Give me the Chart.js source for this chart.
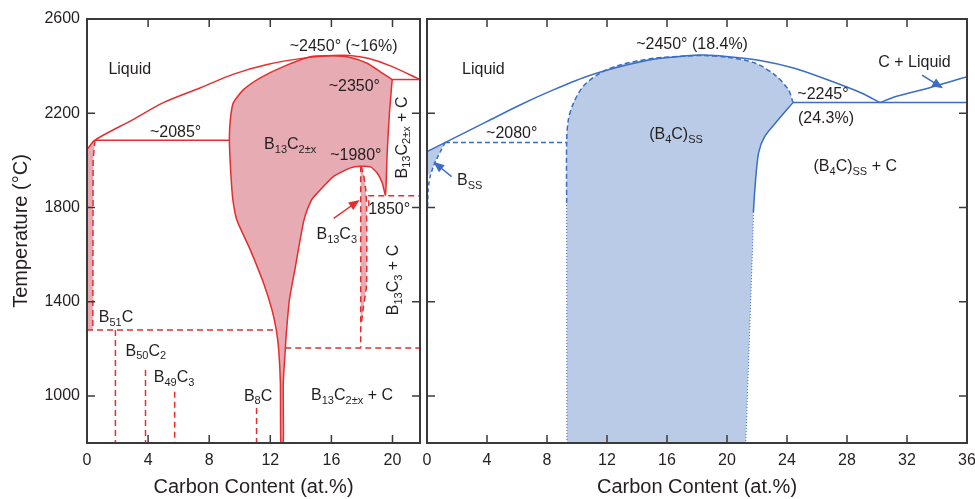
<!DOCTYPE html>
<html>
<head>
<meta charset="utf-8">
<script src="https://cdn.jsdelivr.net/npm/chart.js@4.4.0/dist/chart.umd.min.js"></script>
<style>
  html, body { margin: 0; padding: 0; background: #fff; }
  #wrap { position: relative; width: 975px; height: 499px; overflow: hidden; }
  #leftChart { position: absolute; left: 0; top: 0; }
  #rightChart { position: absolute; left: 380px; top: 0; }
</style>
</head>
<body>
<div id="wrap">
  <canvas id="leftChart" width="423" height="499"></canvas>
  <canvas id="rightChart" width="595" height="499"></canvas>
</div>
<script>
// axis ticks
const yTicks = [1000, 1400, 1800, 2200, 2600];
const leftXTicks = [0, 4, 8, 12, 16, 20];
const rightXTicks = [0, 4, 8, 12, 16, 20, 24, 28, 32, 36];

// ---- left diagram (red) : [carbon at.%, temperature °C]
const redLiquidus = [[0.05,2050],[0.52,2086],[2.95,2171],[5.0,2245],[7.43,2308],[9.6,2366],[11.8,2407],[14.4,2436],[16.1,2445],[17.2,2445],[18.4,2433],[19.9,2400],[21.8,2343]];
const red2085 = [[0.52,2085],[9.32,2085]];
const red2350 = [[19.98,2343],[21.8,2343]];
const b13c2Region = [[19.98,2343],[19.2,2376],[18.34,2412],[17.25,2437],[16.13,2444],[14.62,2440],[12.85,2398],[11.34,2350],[10.23,2299],[9.57,2243],[9.38,2171],[9.32,2085],[9.42,1940],[9.55,1832],[9.81,1747],[10.69,1620],[11.56,1478],[12.11,1365],[12.39,1280],[12.55,1195],[12.66,1055],[12.69,800],
  [12.85,800],[12.85,1055],[12.98,1195],[13.05,1267],[13.25,1407],[13.64,1547],[14.2,1745],[14.7,1832],[15.06,1860],[16.13,1931],[17.25,1968],[17.9,1975],[18.56,1972],[19.0,1946],[19.33,1904],[19.54,1853],[19.65,2031],[19.8,2201],[19.98,2343]];
const b13c3Left = [[17.92,1975],[17.92,1205]];
const b13c3Right = [[17.95,1975],[18.1,1940],[18.25,1874],[18.3,1800],[18.3,1470],[18.1,1380],[17.95,1300]];
const boronSideRegion = [[0.05,2050],[0.52,2086],[0.4,2000],[0.38,1280],[0.05,1280]];
const boronSideEdge = [[0.52,2086],[0.4,2000],[0.38,1280]];
const b51cLine = [[0,1280],[12.39,1280]];
const line1200 = [[12.98,1203],[21.8,1203]];
const line1850 = [[18.45,1805],[18.45,1850],[21.8,1850]];
const b50c2Line = [[1.86,1280],[1.86,800]];
const b49c3Line = [[3.83,1110],[3.83,800]];
const b48c4Line = [[5.74,1018],[5.74,800]];
const b8cLine = [[11.1,949],[11.1,800]];

// ---- right diagram (blue)
const blueLiquidus = [[0,2037],[1.2,2075],[3.98,2164],[6.2,2235],[8.42,2299],[10.6,2355],[12.9,2398],[15.1,2429],[17.3,2444],[18.4,2447],[20.1,2440],[22.3,2423],[24.5,2391],[26.75,2341],[29.0,2285],[30.2,2245]];
const blueCLiquidus = [[30.2,2245],[31.2,2270],[33.4,2306],[36,2355]];
const blue2245 = [[24.4,2245],[36,2245]];
const blue2080 = [[1.2,2076],[9.31,2076]];
const b4cLowLeft = [[9.33,800],[9.31,1820]];
const b4cTop = [[9.31,1820],[9.31,2076],[9.42,2171],[9.76,2242],[10.4,2313],[11.53,2370],[12.87,2405],[15.1,2433],[17.3,2443],[18.4,2445],[20.1,2437],[21.9,2412],[23.2,2362],[24.1,2299],[24.4,2245]];
const b4cSolidus = [[24.4,2245],[23.4,2171],[22.5,2100],[22.1,2030],[21.87,1888],[21.76,1780]];
const b4cLowRight = [[21.76,1780],[21.72,1660],[21.25,800]];
const bssEdge = [[1.2,2075],[0.6,2000],[0.42,1973],[0.2,1930],[0.08,1880],[0.04,1800]];
const bssRegion = [[0,2037],[1.2,2075],[0.6,2000],[0.42,1973],[0.2,1940],[0,1940]];

// labels: [text, x, T, rotation]
const leftLabels = [
  ['Liquid', 2.8, 2392],
  ['~2450° (~16%)', 16.8, 2490],
  ['~2350°', 17.5, 2320],
  ['~2085°', 5.8, 2125],
  ['B_{13}C_{2±x}', 13.3, 2073],
  ['~1980°', 17.6, 2027],
  ['B_{13}C_{2±x} + C', 20.55, 2097, -90],
  ['1850°', 19.78, 1797],
  ['B_{13}C_{3}', 16.35, 1690],
  ['B_{13}C_{3} + C', 20.0, 1492, -90],
  ['B_{51}C', 1.9, 1336],
  ['B_{50}C_{2}', 3.85, 1195],
  ['B_{49}C_{3}', 5.7, 1082],
  ['B_{8}C', 11.2, 1004],
  ['B_{13}C_{2±x} + C', 17.35, 1008]
];
const rightLabels = [
  ['Liquid', 3.76, 2390],
  ['~2450° (18.4%)', 17.67, 2497],
  ['C + Liquid', 32.5, 2419],
  ['~2245°', 26.4, 2285],
  ['(24.3%)', 26.6, 2183],
  ['~2080°', 5.65, 2117],
  ['(B_{4}C)_{SS}', 16.6, 2116],
  ['(B_{4}C)_{SS} + C', 28.55, 1980],
  ['B_{SS}', 2.85, 1920]
];
const leftArrows = [[[16.15,1754],[17.85,1832]]];
const rightArrows = [[[1.64,1931],[0.42,1994]], [[33,2362],[34.4,2306]]];

const RED = '#e52d2d', PINK = '#e6abb3';
const BLUE = '#3b6dc2', LIGHTBLUE = '#b9cbe7';
const TXT = '#231f20';
const FONT = '"Liberation Sans", Arial, Helvetica, sans-serif';

function pts(arr) { return arr.map(p => ({x: p[0], y: p[1]})); }

function ln(arr, color, extra) {
  return Object.assign({data: pts(arr), showLine: true, borderColor: color, borderWidth: 1.5,
    pointRadius: 0, fill: false, tension: 0}, extra || {});
}

function area(arr, color, extra) {
  return Object.assign({data: pts(arr), showLine: true, borderWidth: 0, borderColor: color,
    backgroundColor: color, pointRadius: 0, fill: 'shape', tension: 0, order: 5}, extra || {});
}

const DASH = [6, 4];

// text with _{subscript}
function parseRich(str) {
  const parts = [];
  const re = /_\{([^}]*)\}/g;
  let last = 0, m;
  while ((m = re.exec(str))) {
    if (m.index > last) parts.push({t: str.slice(last, m.index), sub: false});
    parts.push({t: m[1], sub: true});
    last = re.lastIndex;
  }
  if (last < str.length) parts.push({t: str.slice(last), sub: false});
  return parts;
}

function drawRich(ctx, str, x, y, rot) {
  const parts = parseRich(str);
  const main = '16px ' + FONT, small = '11px ' + FONT;
  let w = 0;
  parts.forEach(p => { ctx.font = p.sub ? small : main; p.w = ctx.measureText(p.t).width; w += p.w; });
  ctx.save();
  ctx.translate(x, y);
  if (rot) ctx.rotate(rot * Math.PI / 180);
  ctx.textAlign = 'left';
  ctx.textBaseline = 'alphabetic';
  let cx = -w / 2;
  parts.forEach(p => {
    ctx.font = p.sub ? small : main;
    ctx.fillText(p.t, cx, p.sub ? 9.5 : 5.7);
    cx += p.w;
  });
  ctx.restore();
}

const decor = {
  id: 'decor',
  afterDatasetsDraw(chart, args, o) {
    const {ctx, chartArea: a} = chart;
    const x = chart.scales.x, y = chart.scales.y;
    ctx.save();
    // arrows
    o.arrows.forEach(ar => {
      const x0 = x.getPixelForValue(ar[0][0]), y0 = y.getPixelForValue(ar[0][1]);
      const x1 = x.getPixelForValue(ar[1][0]), y1 = y.getPixelForValue(ar[1][1]);
      const ang = Math.atan2(y1 - y0, x1 - x0);
      const L = 11, W = 4.5;
      const c = Math.cos(ang), s = Math.sin(ang);
      ctx.strokeStyle = o.color; ctx.fillStyle = o.color; ctx.lineWidth = 1.5;
      ctx.beginPath(); ctx.moveTo(x0, y0); ctx.lineTo(x1 - L * 0.8 * c, y1 - L * 0.8 * s); ctx.stroke();
      ctx.beginPath();
      ctx.moveTo(x1, y1);
      ctx.lineTo(x1 - L * c + W * s, y1 - L * s - W * c);
      ctx.lineTo(x1 - L * c - W * s, y1 - L * s + W * c);
      ctx.closePath(); ctx.fill();
    });
    // text
    ctx.fillStyle = TXT;
    o.labels.forEach(l => drawRich(ctx, l[0], x.getPixelForValue(l[1]), y.getPixelForValue(l[2]), l[3] || 0));
    // frame and inward ticks
    ctx.strokeStyle = '#3a3a3a';
    ctx.lineWidth = 2;
    ctx.strokeRect(a.left, a.top, a.right - a.left, a.bottom - a.top);
    ctx.lineWidth = 1.5;
    ctx.beginPath();
    o.xTicks.forEach(v => {
      const px = x.getPixelForValue(v);
      ctx.moveTo(px, a.bottom); ctx.lineTo(px, a.bottom - 8);
      ctx.moveTo(px, a.top); ctx.lineTo(px, a.top + 8);
    });
    yTicks.forEach(v => {
      const py = y.getPixelForValue(v);
      ctx.moveTo(a.left, py); ctx.lineTo(a.left + 8, py);
      ctx.moveTo(a.right, py); ctx.lineTo(a.right - 8, py);
    });
    ctx.stroke();
    ctx.restore();
  }
};

function xScale(max, ticks) {
  return {
    type: 'linear', min: 0, max: max,
    grid: {display: false, drawTicks: false}, border: {display: false},
    afterBuildTicks: s => { s.ticks = ticks.map(v => ({value: v})); },
    afterFit: s => { s.height = 56; s.paddingLeft = 0; s.paddingRight = 0; },
    ticks: {padding: 8, color: TXT, font: {family: FONT, size: 16}, maxRotation: 0, autoSkip: false,
      callback: v => String(v)},
    title: {display: true, text: 'Carbon Content (at.%)', color: TXT, font: {family: FONT, size: 20}, padding: 0}
  };
}

function baseOptions(xs, ys, padding, labels, arrows, color, xt) {
  return {
    responsive: false, animation: false,
    layout: {padding: padding},
    plugins: {legend: {display: false}, tooltip: {enabled: false},
      decor: {labels: labels, arrows: arrows, color: color, xTicks: xt}},
    scales: {x: xs, y: ys}
  };
}

// ---- left chart
const leftDatasets = [
  ln(redLiquidus, RED, {tension: 0.3}),
  ln(red2085, RED),
  ln(red2350, RED),
  ln(b13c3Left, RED, {borderDash: DASH}),
  ln(b13c3Right, RED, {borderDash: DASH, tension: 0.2}),
  ln(boronSideEdge, RED, {borderDash: DASH}),
  ln(b51cLine, RED, {borderDash: DASH}),
  ln(line1200, RED, {borderDash: DASH}),
  ln(line1850, RED, {borderDash: DASH}),
  ln(b50c2Line, RED, {borderDash: DASH}),
  ln(b49c3Line, RED, {borderDash: DASH}),
  ln(b48c4Line, RED, {borderDash: DASH}),
  ln(b8cLine, RED, {borderDash: DASH}),
  area(b13c2Region, PINK, {borderWidth: 1.5, borderColor: RED, tension: 0.2}),
  area(b13c3Left.concat(b13c3Right.slice().reverse()), PINK),
  area(boronSideRegion, PINK)
];

new Chart(document.getElementById('leftChart'), {
  type: 'scatter',
  data: {datasets: leftDatasets},
  options: baseOptions(
    xScale(21.8, leftXTicks),
    {
      type: 'linear', min: 800, max: 2600,
      grid: {display: false, drawTicks: false}, border: {display: false},
      afterBuildTicks: s => { s.ticks = yTicks.map(v => ({value: v})); },
      afterFit: s => { s.width = 87; s.paddingTop = 0; s.paddingBottom = 0; },
      ticks: {padding: 7, color: TXT, font: {family: FONT, size: 16}, callback: v => String(v)},
      title: {display: true, text: 'Temperature (°C)', color: TXT, font: {family: FONT, size: 20}, padding: {top: 9, bottom: 0}}
    },
    {top: 19, right: 3, left: 0, bottom: 0},
    leftLabels, leftArrows, RED, leftXTicks),
  plugins: [decor]
});

// ---- right chart
const rightDatasets = [
  ln(blueLiquidus, BLUE, {tension: 0.3}),
  ln(blueCLiquidus, BLUE, {tension: 0.2}),
  ln(blue2245, BLUE),
  ln(blue2080, BLUE, {borderDash: [5, 3]}),
  ln(b4cTop, BLUE, {borderDash: [5, 3], tension: 0.3}),
  ln(b4cSolidus, BLUE, {tension: 0.3}),
  ln(b4cLowLeft, BLUE, {borderDash: [1, 2], borderWidth: 1}),
  ln(b4cLowRight, BLUE, {borderDash: [1, 2], borderWidth: 1}),
  ln(bssEdge, BLUE, {borderDash: [4, 3], tension: 0.2}),
  area(b4cLowLeft.concat(b4cTop, b4cSolidus, b4cLowRight), LIGHTBLUE, {tension: 0.3}),
  area(bssRegion, LIGHTBLUE)
];

new Chart(document.getElementById('rightChart'), {
  type: 'scatter',
  data: {datasets: rightDatasets},
  options: baseOptions(
    xScale(36, rightXTicks),
    {type: 'linear', min: 800, max: 2600, display: false},
    {top: 19, right: 8, left: 47, bottom: 0},
    rightLabels, rightArrows, BLUE, rightXTicks),
  plugins: [decor]
});
</script>
</body>
</html>
